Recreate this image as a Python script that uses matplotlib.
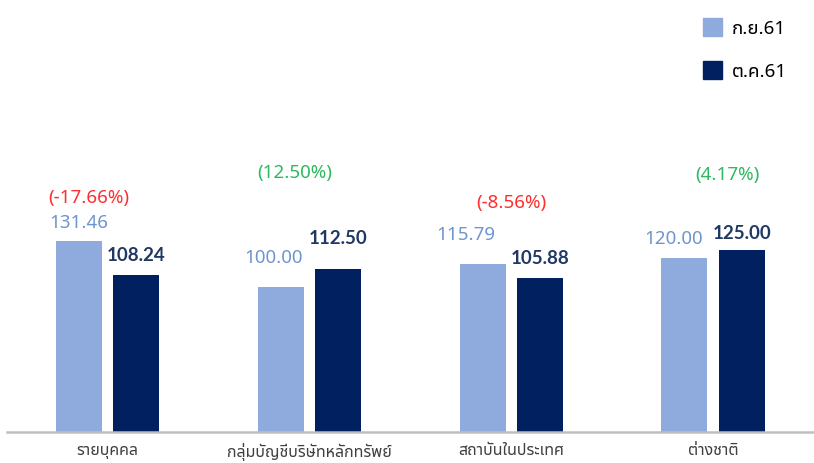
import matplotlib
matplotlib.use("Agg")
import matplotlib.pyplot as plt
from matplotlib.patches import Patch
import numpy as np

categories = ["รายบุคคล", "กลุ่มบัญชีบริษัทหลักทรัพย์", "สถาบันในประเทศ", "ต่างชาติ"]
series_names = ["ก.ย.61", "ต.ค.61"]
sep_values = [131.46, 100.00, 115.79, 120.00]
oct_values = [108.24, 112.50, 105.88, 125.00]
pct_labels = ["(-17.66%)", "(12.50%)", "(-8.56%)", "(4.17%)"]

# layout constants (styling, not data)
light_c = "#8FAADC"
dark_c = "#002060"
light_txt = "#6F95CF"
dark_txt = "#1F3864"
red_c = "#FF2E2E"
green_c = "#2DBA5E"
light_lbl_dx = [0, -0.035, -0.085, -0.055]
light_lbl_dy = [19, 30, 30, 20]    # px above bar top
dark_lbl_dy = [20, 31, 21, 18]
pct_dx = [-0.09, -0.07, 0.0, 0.07]
pct_y = [161.7, 179.0, 158.5, 177.5]

plt.rcParams['font.family'] = ['Noto Sans Thai UI', 'Noto Sans', 'DejaVu Sans']

fig = plt.figure(figsize=(8.14, 4.64), dpi=100)
ax = fig.add_axes([6.5/814, (464-433)/464, 807.5/814, 433/464])
x = np.arange(len(categories))
w = 0.228
off = 0.142
ax.bar(x - off, sep_values, w, color=light_c, label=series_names[0])
ax.bar(x + off, oct_values, w, color=dark_c, label=series_names[1])
ax.set_xlim(-0.5, 3.5)
ax.set_ylim(0, 433/1.453)

px = 1/1.453
for i in range(len(categories)):
    ax.text(x[i] - off + light_lbl_dx[i], sep_values[i] + light_lbl_dy[i]*px, f"{sep_values[i]:.2f}",
            ha='center', va='center', color=light_txt, fontsize=13.5)
    ax.text(x[i] + off, oct_values[i] + dark_lbl_dy[i]*px, f"{oct_values[i]:.2f}",
            ha='center', va='center', color=dark_txt, fontsize=13.5, fontweight='bold',
            family=['Lato', 'Open Sans', 'DejaVu Sans'])
    col = red_c if pct_labels[i].startswith("(-") else green_c
    ax.text(x[i] + pct_dx[i], pct_y[i], pct_labels[i], ha='center', va='center', color=col, fontsize=13.5)

for s in ['top', 'right', 'left']:
    ax.spines[s].set_visible(False)
ax.spines['bottom'].set_color('#BFBFBF')
ax.spines['bottom'].set_linewidth(1.8)
ax.set_yticks([])
ax.set_xticks(x)
ax.set_xticklabels(categories, fontsize=11.5, color='#404040')
ax.tick_params(axis='x', length=0, pad=7)

handles = [Patch(color=light_c), Patch(color=dark_c)]
leg = fig.legend(handles, series_names, loc='upper left', bbox_to_anchor=(684/814, 1.0),
                 frameon=False, fontsize=13.5, handlelength=1.0, handleheight=1.1,
                 labelspacing=1.25, handletextpad=0.55, borderaxespad=0.6)
fig.savefig("out.png", dpi=100)
